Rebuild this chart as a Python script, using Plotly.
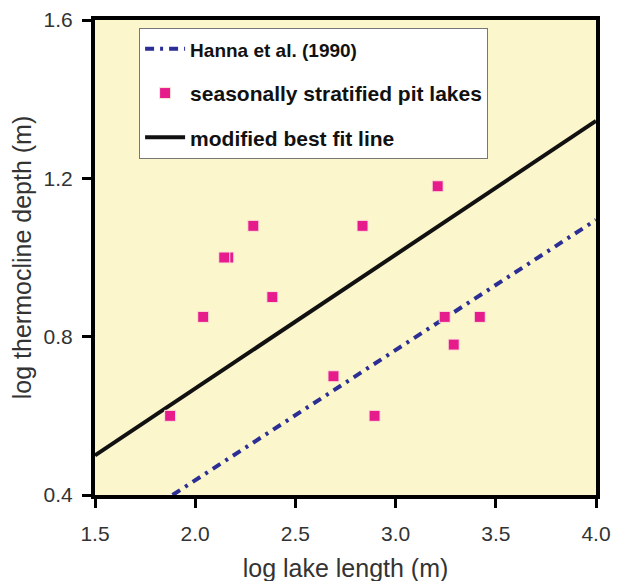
import plotly.graph_objects as go

# Data
lake_len = [1.875, 2.04, 2.165, 2.145, 2.29, 2.385, 2.69, 2.835, 2.895, 3.21, 3.245, 3.29, 3.42]
therm_depth = [0.60, 0.85, 1.00, 1.00, 1.08, 0.90, 0.70, 1.08, 0.60, 1.18, 0.85, 0.78, 0.85]

hanna_x = [1.887, 4.0]
hanna_y = [0.40, 1.095]

fit_x = [1.5, 4.0]
fit_y = [0.50, 1.345]

x_ticks = [1.5, 2.0, 2.5, 3.0, 3.5, 4.0]
x_labels = ["1.5", "2.0", "2.5", "3.0", "3.5", "4.0"]
y_ticks = [0.4, 0.8, 1.2, 1.6]
y_labels = ["0.4", "0.8", "1.2", "1.6"]

FONT = "Liberation Sans, Arial, sans-serif"

fig = go.Figure()
fig.add_trace(go.Scatter(
    x=hanna_x, y=hanna_y, mode="lines",
    name='<span style="font-size:19px">Hanna et al. (1990)</span>',
    line=dict(color="#2B2E94", width=4, dash="9px,6px,3px,6px"),
    legendgroup="a", legendrank=1,
))
fig.add_trace(go.Scatter(
    x=fit_x, y=fit_y, mode="lines",
    name="modified best fit line",
    line=dict(color="#111111", width=4),
    legendgroup="c", legendrank=3,
))
fig.add_trace(go.Scatter(
    x=lake_len, y=therm_depth, mode="markers",
    name="seasonally stratified pit lakes",
    marker=dict(symbol="square", size=11, color="#E61C8C",
                line=dict(color="#FBE6D6", width=1)),
    legendgroup="b", legendrank=2,
))

fig.update_layout(
    width=622, height=581,
    margin=dict(l=87, r=34, t=12, b=94, autoexpand=False),
    paper_bgcolor="white",
    plot_bgcolor="#FBF6CB",
    font=dict(family=FONT, color="#222222", size=21),
    showlegend=True,
    legend=dict(
        x=0.088, y=0.984, xanchor="left", yanchor="top",
        bgcolor="white", bordercolor="#777777", borderwidth=1,
        font=dict(family=FONT, size=21, color="#111111", weight="bold"),
        tracegroupgap=14,
        itemwidth=40,
    ),
    xaxis=dict(
        range=[1.5, 4.0], tickvals=x_ticks, ticktext=x_labels,
        showline=True, linecolor="black", linewidth=4, mirror=True,
        ticks="outside", ticklen=9, tickwidth=3, tickcolor="black",
        ticklabelstandoff=8, automargin=False, ticklabeloverflow="allow",
        showgrid=False, zeroline=False,
        tickfont=dict(size=21, color="#333333"),
        title=dict(text="log lake length (m)", font=dict(size=25, color="#333333"), standoff=16),
    ),
    yaxis=dict(
        range=[0.4, 1.6], tickvals=y_ticks, ticktext=y_labels,
        showline=True, linecolor="black", linewidth=4, mirror=True,
        ticks="outside", ticklen=9, tickwidth=3, tickcolor="black",
        ticklabelstandoff=5, automargin=False, ticklabeloverflow="allow",
        showgrid=False, zeroline=False,
        tickfont=dict(size=21, color="#333333"),
        title=dict(text="log thermocline depth (m)", font=dict(size=25, color="#333333"), standoff=11),
    ),
)

fig.write_html("out.html")
